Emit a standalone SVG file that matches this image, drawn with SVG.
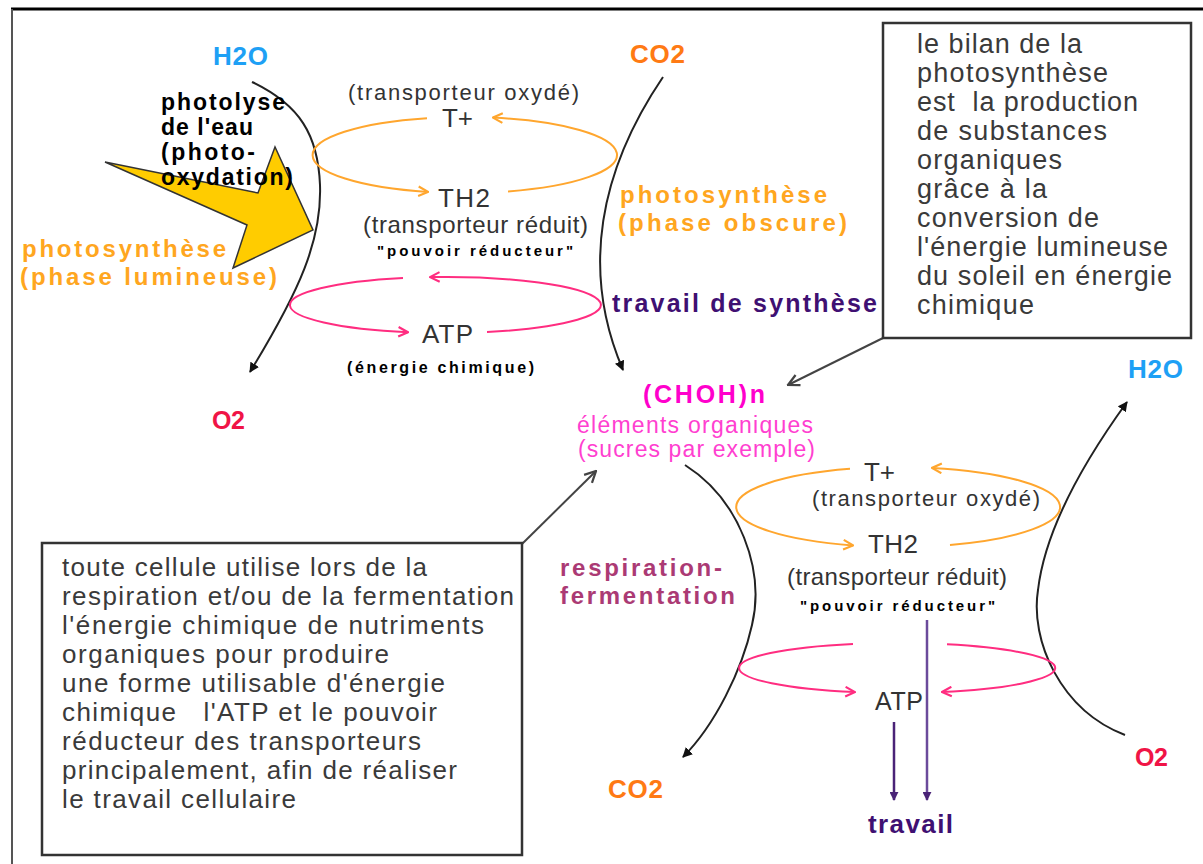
<svg xmlns="http://www.w3.org/2000/svg" width="1203" height="864" viewBox="0 0 1203 864">
<defs>
<marker id="ab" viewBox="0 0 10 10" refX="9" refY="5" markerWidth="10" markerHeight="10" markerUnits="userSpaceOnUse" orient="auto"><path d="M0,0 L10,5 L0,10 z" fill="#111"/></marker>
<marker id="ao" viewBox="0 0 10 10" refX="9" refY="5" markerWidth="12" markerHeight="12" markerUnits="userSpaceOnUse" orient="auto"><path d="M1,1 L9,5 L1,9" fill="none" stroke="#ffa62e" stroke-width="1.8"/></marker>
<marker id="ap" viewBox="0 0 10 10" refX="9" refY="5" markerWidth="12" markerHeight="12" markerUnits="userSpaceOnUse" orient="auto"><path d="M1,1 L9,5 L1,9" fill="none" stroke="#ff2d80" stroke-width="1.8"/></marker>
<marker id="ag" viewBox="0 0 10 10" refX="9" refY="5" markerWidth="14" markerHeight="14" markerUnits="userSpaceOnUse" orient="auto"><path d="M1,1 L9,5 L1,9" fill="none" stroke="#444" stroke-width="1.6"/></marker>
<marker id="av" viewBox="0 0 10 10" refX="9" refY="5" markerWidth="9" markerHeight="9" markerUnits="userSpaceOnUse" orient="auto"><path d="M0,0 L10,5 L0,10 z" fill="#4a2377"/></marker>
</defs>
<style>
text{font-family:"Liberation Sans",Arial,sans-serif;}
.b{font-weight:bold;}
.g{fill:#333;}
.blk{fill:#000;}
.bl{fill:#1ea0f5;}
.co{fill:#ff7a14;}
.red{fill:#f01446;}
.or{fill:#ffa620;}
.pu{fill:#3f1072;}
.mg{fill:#ff00cc;}
.mg2{fill:#ff3fd0;}
.rs{fill:#ab3a74;}
.bx{fill:#3a3a3a;font-size:27px;}
.bx2{fill:#3a3a3a;font-size:26px;}
.cv{fill:none;stroke:#222;stroke-width:2;}
.oa{fill:none;stroke:#ffa62e;stroke-width:2;}
.pa{fill:none;stroke:#ff2d80;stroke-width:2;}
.ln{fill:none;stroke:#444;stroke-width:2;}
.frame{fill:none;stroke:#333;stroke-width:2.5;}
</style>
<rect x="0" y="0" width="1203" height="864" fill="#fff"/>
<g id="border">
<line x1="11" y1="9" x2="1203" y2="9" stroke="#000" stroke-width="3"/>
<line x1="12" y1="9" x2="12" y2="864" stroke="#555" stroke-width="2"/>
</g>
<g id="connectors">
<path class="cv" d="M252,82 C300,105 318,135 320,185 C322,240 300,290 250,372" marker-end="url(#ab)"/>
<path class="cv" d="M663,77 C600,170 580,270 623,370" marker-end="url(#ab)"/>
<path class="cv" d="M1125,735 C1060,710 1030,640 1038,590 C1045,530 1085,460 1127,402" marker-end="url(#ab)"/>
<path class="cv" d="M685,465 C740,500 765,570 752,625 C742,670 715,725 683,757" marker-end="url(#ab)"/>
<path class="oa" d="M427,118.2 A152,38 0 0,0 428,191.9" marker-end="url(#ao)"/>
<path class="oa" d="M508,191.4 A152,38 0 0,0 493,117.6" marker-end="url(#ao)"/>
<path class="pa" d="M403,278.05 A155,28 0 0,0 408,332.2" marker-end="url(#ap)"/>
<path class="pa" d="M487,331.95 A155,28 0 0,0 430,277.1" marker-end="url(#ap)"/>
<path class="oa" d="M850,468.8 A162,40 0 0,0 853,545.4" marker-end="url(#ao)"/>
<path class="oa" d="M950,544.9 A162,40 0 0,0 932,467.9" marker-end="url(#ao)"/>
<path class="pa" d="M853,644 A158,25 0 0,0 855,692.1" marker-end="url(#ap)"/>
<path class="pa" d="M947,644.3 A158,25 0 0,1 942,692" marker-end="url(#ap)"/>
<line class="ln" x1="883" y1="338" x2="788" y2="385" marker-end="url(#ag)"/>
<line class="ln" x1="522" y1="544" x2="596" y2="471" marker-end="url(#ag)"/>
<line x1="927" y1="620" x2="927" y2="800" stroke="#6b4a9b" stroke-width="2.5" marker-end="url(#av)"/>
<line x1="894" y1="722" x2="894" y2="800" stroke="#4a2377" stroke-width="2.5" marker-end="url(#av)"/>
</g>
<g id="sun">
<polygon points="105,162 258,193 275,147 313,230 233,268 247,225" fill="#ffcc00" stroke="#333" stroke-width="1.5" stroke-linejoin="miter"/>
</g>
<g id="h2o-top"><text class="b bl" x="213" y="65" font-size="26" textLength="55">H2O</text></g>
<g id="photolyse">
<text class="b blk" font-size="23" x="161" y="110" textLength="124">photolyse</text>
<text class="b blk" font-size="23" x="161" y="135" textLength="92">de l'eau</text>
<text class="b blk" font-size="23" x="161" y="160" textLength="94">(photo-</text>
<text class="b blk" font-size="23" x="161" y="185" textLength="132">oxydation)</text>
</g>
<g id="phase-lumineuse">
<text class="b or" font-size="24" x="22" y="257" textLength="204">photosynthèse</text>
<text class="b or" font-size="24" x="20" y="285" textLength="257">(phase lumineuse)</text>
</g>
<g id="o2-left"><text class="b red" font-size="25" x="212" y="429" textLength="33">O2</text></g>
<g id="t-plus-top">
<text class="g" font-size="22" x="348" y="100" textLength="231">(transporteur oxydé)</text>
<text class="g" font-size="26" x="442" y="127" textLength="31">T+</text>
</g>
<g id="th2-top">
<text class="g" font-size="26" x="438" y="207" textLength="52">TH2</text>
<text class="g" font-size="24" x="363" y="233" textLength="225">(transporteur réduit)</text>
<text class="b blk" font-size="15" x="377" y="256" textLength="196">"pouvoir réducteur"</text>
</g>
<g id="atp-top">
<text class="g" font-size="26" x="422" y="343" textLength="51">ATP</text>
<text class="b blk" font-size="16" x="347" y="373" textLength="187">(énergie chimique)</text>
</g>
<g id="co2-top"><text class="b co" font-size="26" x="630" y="63" textLength="55">CO2</text></g>
<g id="phase-obscure">
<text class="b or" font-size="24" x="620" y="203" textLength="207">photosynthèse</text>
<text class="b or" font-size="24" x="618" y="231" textLength="229">(phase obscure)</text>
</g>
<g id="travail-synthese"><text class="b pu" font-size="25" x="612" y="312" textLength="265">travail de synthèse</text></g>
<g id="bilan-box">
<rect class="frame" x="883" y="23" width="308" height="315"/>
<text class="bx" x="917" y="53" textLength="165">le bilan de la</text>
<text class="bx" x="917" y="82" textLength="191">photosynthèse</text>
<text class="bx" x="917" y="111" textLength="221">est&#160; la production</text>
<text class="bx" x="917" y="140" textLength="190">de substances</text>
<text class="bx" x="917" y="169" textLength="145">organiques</text>
<text class="bx" x="917" y="198" textLength="130">grâce à la</text>
<text class="bx" x="917" y="227" textLength="182">conversion de</text>
<text class="bx" x="917" y="256" textLength="251">l'énergie lumineuse</text>
<text class="bx" x="917" y="285" textLength="255">du soleil en énergie</text>
<text class="bx" x="917" y="314" textLength="117">chimique</text>
</g>
<g id="choh">
<text class="b mg" font-size="25" x="643" y="403" textLength="122">(CHOH)n</text>
<text class="mg2" font-size="23" x="577" y="433" textLength="236">éléments organiques</text>
<text class="mg2" font-size="23" x="578" y="457" textLength="237">(sucres par exemple)</text>
</g>
<g id="t-plus-bottom">
<text class="g" font-size="26" x="864" y="481" textLength="31">T+</text>
<text class="g" font-size="22" x="812" y="506" textLength="228">(transporteur oxydé)</text>
</g>
<g id="th2-bottom">
<text class="g" font-size="26" x="868" y="553" textLength="50">TH2</text>
<text class="g" font-size="24" x="787" y="585" textLength="220">(transporteur réduit)</text>
<text class="b blk" font-size="15" x="800" y="611" textLength="195">"pouvoir réducteur"</text>
</g>
<g id="atp-bottom"><text class="g" font-size="25" x="875" y="710" textLength="48">ATP</text></g>
<g id="travail"><text class="b pu" font-size="26" x="868" y="833" textLength="85">travail</text></g>
<g id="o2-right"><text class="b red" font-size="25" x="1135" y="766" textLength="33">O2</text></g>
<g id="h2o-right"><text class="b bl" font-size="26" x="1128" y="378" textLength="55">H2O</text></g>
<g id="respiration">
<text class="b rs" font-size="24" x="560" y="576" textLength="162">respiration-</text>
<text class="b rs" font-size="24" x="560" y="604" textLength="175">fermentation</text>
</g>
<g id="co2-bottom"><text class="b co" font-size="26" x="608" y="798" textLength="55">CO2</text></g>
<g id="cellule-box">
<rect class="frame" x="42" y="543" width="480" height="312"/>
<text class="bx2" x="62" y="576" textLength="365">toute cellule utilise lors de la</text>
<text class="bx2" x="62" y="605" textLength="452">respiration et/ou de la fermentation</text>
<text class="bx2" x="62" y="634" textLength="422">l'énergie chimique de nutriments</text>
<text class="bx2" x="62" y="663" textLength="327">organiques pour produire</text>
<text class="bx2" x="62" y="692" textLength="383">une forme utilisable d'énergie</text>
<text class="bx2" x="62" y="721" textLength="375">chimique&#160;&#160; l'ATP et le pouvoir</text>
<text class="bx2" x="62" y="750" textLength="359">réducteur des transporteurs</text>
<text class="bx2" x="62" y="779" textLength="395">principalement, afin de réaliser</text>
<text class="bx2" x="62" y="808" textLength="234">le travail cellulaire</text>
</g>
</svg>
